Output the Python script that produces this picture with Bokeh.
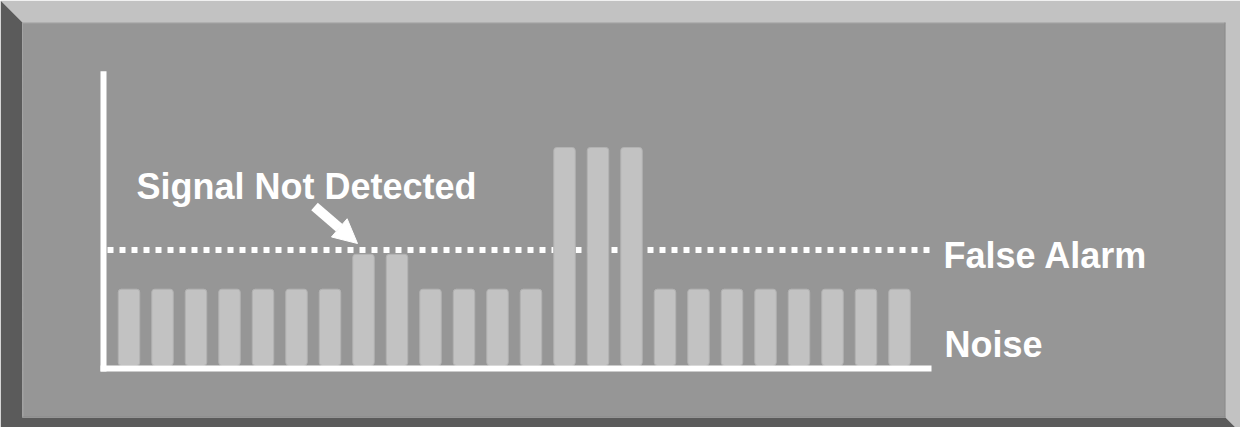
from bokeh.plotting import figure
from bokeh.models import Range1d, Label, Arrow, NormalHead, ColumnDataSource
from bokeh.embed import file_html
from bokeh.resources import INLINE

# ---------------- data ----------------
bins = [1, 2, 3, 4, 5, 6, 7, 8, 9, 10, 11, 12, 13, 14, 15, 16, 17, 18, 19, 20, 21, 22, 23, 24]
amplitudes = [35, 35, 35, 35, 35, 35, 35, 51, 51, 35, 35, 35, 35,
              100, 100, 100, 35, 35, 35, 35, 35, 35, 35, 35]
threshold = 53
axis_top = 135
label_signal = "Signal Not Detected"
label_alarm = "False Alarm"
label_noise = "Noise"

# ---------------- layout (figure pixels) ----------------
W, H = 1240, 427
X0 = 128.5      # pixel centre of first bin
PITCH = 33.5    # pixels per bin
BASE = 365      # pixel row of amplitude 0
SCALE = 2.18    # pixels per amplitude unit


def fx(px):
    return (px - X0) / PITCH + bins[0]


def fy(py):
    return (BASE - py) / SCALE


LIGHT = "#c2c2c2"
DARK = "#5b5b5b"
PANEL = "#969696"
BAR = "#c2c2c2"
FONT = "Liberation Sans"

p = figure(width=W, height=H, x_range=Range1d(fx(0), fx(W)), y_range=Range1d(fy(H), fy(0)),
           toolbar_location=None, output_backend="svg", min_border=0,
           x_axis_type=None, y_axis_type=None, outline_line_color=None,
           background_fill_color="white", border_fill_color="white")
p.grid.visible = False

# bevelled frame
IL, IT, IR, IB = 22, 22, 1225, 417
light = [(0, 0), (W, 0), (W, H), (IR + (H - IB), H), (IR, IB), (IR, IT), (IL, IT)]
dark = [(0, 0), (IL, IT), (IL, IB), (IR, IB), (IR + (H - IB), H), (0, H)]
p.patch([fx(a) for a, b in light], [fy(b) for a, b in light], fill_color=LIGHT, line_color=None)
p.patch([fx(a) for a, b in dark], [fy(b) for a, b in dark], fill_color=DARK, line_color=None)
p.quad(left=fx(IL), right=fx(IR), top=fy(IT), bottom=fy(IB), fill_color=PANEL, line_color=None)
p.segment(x0=[fx(IL), fx(IL)], y0=[fy(IT + 0.5), fy(IT)], x1=[fx(IR), fx(IL + 0.5)], y1=[fy(IT + 0.5), fy(IB)],
          line_color="#a4a4a4", line_width=1)
p.segment(x0=[fx(IL), fx(IR - 0.5)], y0=[fy(IB - 0.5), fy(IT)], x1=[fx(IR), fx(IR - 0.5)], y1=[fy(IB - 0.5), fy(IB)],
          line_color="#8a8a8a", line_width=1)

# threshold (dotted)
p.segment(x0=[fx(107)], y0=[threshold], x1=[fx(934)], y1=[threshold],
          line_color="white", line_width=6, line_dash="6 6")

# bars
src = ColumnDataSource(dict(x=bins, top=amplitudes))
p.vbar(x="x", top="top", bottom=0, width=0.64, source=src,
       fill_color=BAR, line_color="#b2b2b2", line_width=1, border_radius=3)

# axes lines
p.segment(x0=[fx(103)], y0=[axis_top], x1=[fx(103)], y1=[fy(371)], line_color="white", line_width=6)
p.segment(x0=[fx(100)], y0=[fy(368)], x1=[fx(931)], y1=[fy(368)], line_color="white", line_width=6)

# arrow
p.add_layout(Arrow(x_start=fx(314), y_start=fy(206), x_end=fx(357), y_end=fy(243),
                   line_color="white", line_width=10,
                   end=NormalHead(size=24, fill_color="white", line_color="white", line_width=1)))

# labels
for txt, px, py in [(label_signal, 136, 186), (label_alarm, 943, 255), (label_noise, 944, 344)]:
    p.add_layout(Label(x=fx(px), y=fy(py), text=txt, text_color="white", text_font=FONT,
                       text_font_style="bold", text_font_size="36px", text_baseline="alphabetic",
                       text_align="left"))

open("out.html", "w").write(file_html(p, INLINE))
